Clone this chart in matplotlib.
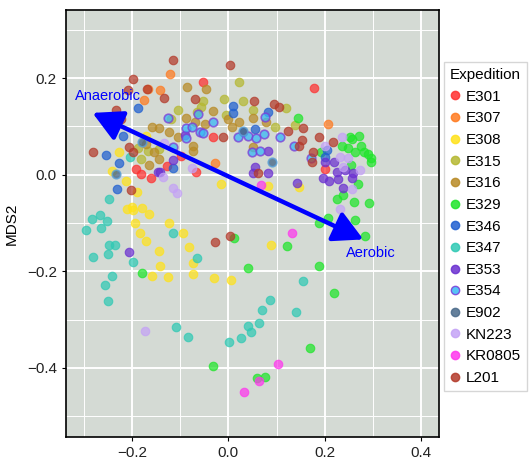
import numpy as np
import matplotlib
matplotlib.use("Agg")
import matplotlib.pyplot as plt
from matplotlib.lines import Line2D
from matplotlib.ticker import MultipleLocator

plt.rcParams['font.family'] = ['Liberation Sans', 'DejaVu Sans']

# ---- data: MDS coordinates per expedition ----
groups = ["E301", "E307", "E308", "E315", "E316", "E329", "E346", "E347",
          "E353", "E354", "E902", "KN223", "KR0805", "L201"]
colors = ["#ff3030", "#ff7a1f", "#ffe21a", "#b5b831", "#b88a25", "#1fe52a", "#1f5fd0",
          "#2fc9b4", "#6a2fd0", "#3ab8f5", "#4a6a8a", "#c4a2f6", "#ff36ee", "#b33a2a"]

E301_x = [0.178, -0.052, -0.033, -0.182, -0.191, -0.160, -0.128, -0.068, -0.099, 0.201]
E301_y = [0.180, 0.192, 0.079, 0.002, 0.012, -0.006, 0.019, 0.006, 0.039, 0.012]

E307_x = [-0.122, -0.166, -0.141, -0.176, 0.207, -0.027]
E307_y = [0.209, 0.178, 0.176, 0.155, 0.105, 0.025]

E308_x = [-0.170, -0.226, -0.242, -0.213, -0.189, -0.201, -0.211, -0.199, -0.180, -0.164,
          -0.193, -0.124, -0.184, -0.095, -0.172, -0.143, -0.081, -0.073, -0.141, -0.158,
          -0.126, -0.073, -0.029, 0.006, -0.015, 0.083, 0.147, 0.089]
E308_y = [0.081, 0.046, 0.008, -0.014, -0.035, -0.066, -0.070, -0.074, -0.068, -0.081,
          -0.099, -0.099, -0.120, -0.120, -0.137, -0.157, -0.149, -0.182, -0.190, -0.209,
          -0.211, -0.205, -0.213, -0.219, -0.019, -0.023, -0.025, -0.145]

E315_x = [0.023, -0.010, -0.052, -0.056, -0.066, 0.031, 0.052, -0.120, -0.187, -0.166,
          -0.143, -0.182, 0.120, 0.097, 0.139, -0.104, -0.006]
E315_y = [0.192, 0.157, 0.153, 0.141, 0.130, 0.153, 0.134, 0.116, 0.056, 0.050,
          0.054, 0.033, 0.139, 0.099, 0.103, 0.134, 0.124]

E316_x = [-0.085, -0.046, -0.031, -0.070, -0.089, 0.000, 0.021, 0.052, 0.077, 0.008,
          -0.048, -0.158, -0.143, -0.170, -0.155, -0.143, -0.124, -0.104, -0.164, -0.073,
          -0.073, 0.052]
E316_y = [0.182, 0.178, 0.132, 0.110, 0.118, 0.116, 0.110, 0.118, 0.110, 0.099,
          0.105, 0.099, 0.097, 0.064, 0.046, 0.033, 0.089, 0.079, 0.021, 0.060,
          0.050, 0.058]

E329_x = [0.145, 0.253, 0.272, 0.257, 0.236, 0.249, 0.276, 0.282, 0.263, 0.290,
          0.296, 0.296, 0.193, 0.255, 0.269, 0.226, 0.238, 0.261, 0.292, 0.189,
          0.207, 0.263, 0.247, 0.284, 0.122, 0.187, 0.220, 0.170, 0.075, 0.060,
          -0.031, -0.180, 0.012, 0.041]
E329_y = [0.118, 0.079, 0.081, 0.074, 0.060, 0.056, 0.060, 0.048, 0.046, 0.043,
          0.035, 0.027, 0.046, 0.021, -0.019, -0.050, -0.043, -0.056, -0.058, -0.099,
          -0.089, -0.093, -0.108, -0.126, -0.147, -0.188, -0.244, -0.358, -0.418, -0.420,
          -0.397, -0.203, -0.130, -0.194]

E346_x = [-0.187, -0.218, -0.253, -0.226, -0.232, -0.116, 0.010, 0.010, 0.083, 0.056,
          0.031, 0.205, 0.201]
E346_y = [0.139, 0.081, 0.041, 0.025, -0.029, 0.014, 0.143, 0.128, 0.130, 0.095,
          0.089, 0.052, 0.037]

E347_x = [-0.247, -0.267, -0.284, -0.251, -0.296, -0.265, -0.247, -0.236, -0.282, -0.249,
          -0.197, -0.114, -0.242, -0.257, -0.249, -0.066, 0.155, 0.087, 0.070, 0.141,
          0.064, 0.041, 0.046, 0.027, 0.002, -0.083, -0.108, -0.205]
E347_y = [-0.050, -0.083, -0.091, -0.095, -0.114, -0.110, -0.145, -0.145, -0.170, -0.165,
          -0.180, -0.120, -0.209, -0.228, -0.261, -0.172, -0.221, -0.259, -0.281, -0.285,
          -0.306, -0.314, -0.325, -0.339, -0.347, -0.335, -0.316, 0.037]

E353_x = [-0.207, 0.056, 0.052, 0.083, 0.083, 0.143, 0.201, 0.220, 0.226, 0.242,
          0.259, 0.228, 0.209, 0.197, 0.257, 0.238, -0.116, -0.147, -0.141, -0.091]
E353_y = [-0.161, 0.017, 0.004, 0.004, 0.050, -0.017, 0.027, 0.027, 0.006, 0.010,
          0.004, -0.008, -0.014, -0.006, -0.006, -0.027, 0.031, 0.006, 0.006, 0.083]

E354_x = [-0.126, -0.064, -0.033, -0.089, -0.075, -0.058, -0.089, -0.114, 0.019, 0.041,
          0.058, 0.073, 0.075, 0.108, 0.137, 0.172, 0.048, 0.066, -0.052]
E354_y = [0.118, 0.126, 0.110, 0.097, 0.099, 0.089, 0.077, 0.058, 0.079, 0.081,
          0.077, 0.085, 0.120, 0.079, 0.060, 0.035, 0.048, 0.050, 0.087]

E902_x = [-0.234, -0.180, 0.091, 0.031]
E902_y = [0.002, 0.068, 0.027, 0.091]

KN223_x = [-0.174, -0.116, -0.106, -0.075, -0.135, -0.133, 0.236, 0.201, 0.232, 0.249,
           0.238, 0.274, 0.257, 0.232]
KN223_y = [-0.323, -0.027, -0.037, 0.014, -0.004, 0.066, 0.079, 0.060, 0.037, 0.035,
           0.017, 0.010, -0.029, -0.070]

KR0805_x = [0.068, 0.133, 0.102, 0.064, 0.033]
KR0805_y = [-0.021, -0.120, -0.391, -0.428, -0.449]

L201_x = [-0.114, -0.197, -0.209, -0.168, -0.133, -0.234, -0.222, -0.280, -0.207, -0.199,
          -0.203, 0.004, 0.054, -0.070, 0.095, 0.104, 0.124, -0.012, 0.155, 0.153,
          0.187, 0.218, 0.176, 0.174, 0.147, 0.062, -0.027, 0.004]
L201_y = [0.238, 0.199, 0.176, 0.178, 0.159, 0.134, 0.116, 0.046, 0.058, 0.048,
          -0.031, 0.228, 0.153, 0.157, 0.147, 0.141, 0.091, 0.079, 0.097, 0.072,
          0.079, 0.068, 0.048, 0.027, 0.060, 0.004, -0.139, -0.126]

xs = [E301_x, E307_x, E308_x, E315_x, E316_x, E329_x, E346_x, E347_x,
      E353_x, E354_x, E902_x, KN223_x, KR0805_x, L201_x]
ys = [E301_y, E307_y, E308_y, E315_y, E316_y, E329_y, E346_y, E347_y,
      E353_y, E354_y, E902_y, KN223_y, KR0805_y, L201_y]

arrow_start = (0.280, -0.134)   # aerobic end
arrow_end = (-0.282, 0.128)     # anaerobic end

# ---- plot ----
fig = plt.figure(figsize=(5.29, 4.63), dpi=100)
ax = fig.add_axes([66/529, 1-437/463, (439-66)/529, (437-10)/463])
ax.set_facecolor("#d4dad4")
ax.set_xlim(-0.337, 0.437); ax.set_ylim(-0.543, 0.341)
ax.xaxis.set_major_locator(MultipleLocator(0.2)); ax.xaxis.set_minor_locator(MultipleLocator(0.1))
ax.yaxis.set_major_locator(MultipleLocator(0.2)); ax.yaxis.set_minor_locator(MultipleLocator(0.1))
ax.grid(which="major", color="white", lw=1.4, zorder=0)
ax.grid(which="minor", color="white", lw=0.7, zorder=0)
ax.set_axisbelow(True)
for s in ax.spines.values():
    s.set_color("black"); s.set_linewidth(1.2)
ax.tick_params(which="major", length=3, width=0.8, labelsize=11, colors="black", labelcolor="#222222")
ax.tick_params(which="minor", length=0)
fmt = matplotlib.ticker.FuncFormatter(lambda v, p: f"{v:.1f}".replace("-", "\u2212"))
ax.xaxis.set_major_formatter(fmt); ax.yaxis.set_major_formatter(fmt)

for g, c, x, y in zip(groups, colors, xs, ys):
    if g == "E354":
        ax.scatter(x, y, s=38, c=c, alpha=0.75, edgecolors="#7a3ad8", linewidths=1.2, zorder=3)
    elif g == "E902":
        ax.scatter(x, y, s=38, c=c, alpha=0.8, edgecolors="#5aa0d8", linewidths=1.2, zorder=3)
    else:
        ax.scatter(x, y, s=38, c=c, alpha=0.72, edgecolors=c, linewidths=0.8, zorder=3)

# double-headed gradient arrow
ax.annotate("", xy=arrow_end, xytext=arrow_start,
            arrowprops=dict(arrowstyle="<|-|>,head_length=0.75,head_width=0.4", color="#0000ff",
                            lw=3.2, mutation_scale=24, shrinkA=0, shrinkB=0), zorder=5)
ax.text(-0.319, 0.163, "Anaerobic", color="#0000ff", fontsize=10.5, va="center", ha="left", zorder=6)
ax.text(0.243, -0.162, "Aerobic", color="#0000ff", fontsize=10.5, va="center", ha="left", zorder=6)

ax.set_ylabel("MDS2", fontsize=11, labelpad=6)
ax.set_xlabel("MDS1", fontsize=11, labelpad=2)

handles = [Line2D([], [], marker="o", ls="", color=c, markersize=6, alpha=0.85,
                  markeredgecolor=("#7a3ad8" if g == "E354" else c)) for g, c in zip(groups, colors)]
leg = ax.legend(handles, groups, title="Expedition", loc="upper left",
                bbox_to_anchor=(444/529, 1-62/463), bbox_transform=fig.transFigure,
                fontsize=11, title_fontsize=11, frameon=True, fancybox=False,
                handlelength=0.6, handletextpad=0.4, labelspacing=0.5,
                borderpad=0.4, borderaxespad=0)
leg.get_frame().set_edgecolor("#cccccc"); leg.get_frame().set_linewidth(1)
leg._legend_box.align = "left"

fig.savefig("out.png", dpi=100)
